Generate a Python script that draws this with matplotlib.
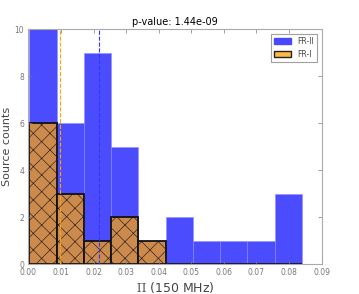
import numpy as np
import matplotlib
matplotlib.use('Agg')
import matplotlib.pyplot as plt
from matplotlib.patches import Patch

plt.rcParams['mathtext.fontset'] = 'cm'

# bin edges shared by both samples
bin_lo = 0.0003
bin_hi = 0.0839
n_bins = 10

fr2_counts = [10, 6, 9, 5, 1, 2, 1, 1, 1, 3]
fr1_counts = [6, 3, 1, 2, 1, 0, 0, 0, 0, 0]

fr1_median = 0.0098
fr2_median = 0.0218
p_value = 1.44e-09

x_ticks = [0.00, 0.01, 0.02, 0.03, 0.04, 0.05, 0.06, 0.07, 0.08, 0.09]
y_ticks = [0, 2, 4, 6, 8, 10]

edges = np.linspace(bin_lo, bin_hi, n_bins + 1)
centers = 0.5 * (edges[:-1] + edges[1:])

fig = plt.figure(figsize=(3.59, 2.94), dpi=100)
ax = fig.add_axes([0.079, 0.102, 0.817, 0.799])

ax.hist(centers, bins=edges, weights=fr2_counts, color='#0000ff', alpha=0.7,
		edgecolor='#9090ff', linewidth=0.6, label='FR-II')
plt.rcParams['hatch.color'] = '#6a4a30'
plt.rcParams['hatch.linewidth'] = 0.4
ax.hist(centers, bins=edges, weights=fr1_counts, facecolor='#cd8a4d',
		edgecolor='#111111', linewidth=1.3, hatch='xx', label='FR-I')

ax.axvline(fr1_median, color='orange', linestyle='--', linewidth=0.8)
ax.axvline(fr2_median, color='#3333ff', linestyle='--', linewidth=0.8)

ax.set_xlim(0, 0.09)
ax.set_ylim(0, 10)
ax.set_xticks(x_ticks)
ax.set_yticks(y_ticks)
ax.set_xticklabels(['%.2f' % t for t in x_ticks])
ax.tick_params(direction='in', top=True, right=True, labelsize=5.5,
			   colors='#777777', length=3, width=0.5, pad=3)
for s in ax.spines.values():
	s.set_color('#aaaaaa')
	s.set_linewidth(0.8)

ax.set_xlabel(r'$\Pi$ (150 MHz)', fontsize=9, color='#444444', labelpad=2)
ax.set_ylabel('Source counts', fontsize=8, color='#444444')
ax.yaxis.set_label_coords(-0.055, 0.5)
ax.set_title('p-value: %.2e' % p_value, fontsize=7, pad=3)

handles = [Patch(facecolor='#4848ff', edgecolor='#4848ff', label='FR-II'),
		   Patch(facecolor='#ffb840', edgecolor='#222222', label='FR-I')]
leg = ax.legend(handles=handles, loc='upper right', fontsize=5.5, fancybox=False,
				handlelength=2.2, borderaxespad=0.6)
leg.get_frame().set_edgecolor('#888888')
leg.get_frame().set_linewidth(0.8)
for t in leg.get_texts():
	t.set_color('#444444')

fig.savefig('out.png', dpi=100)
